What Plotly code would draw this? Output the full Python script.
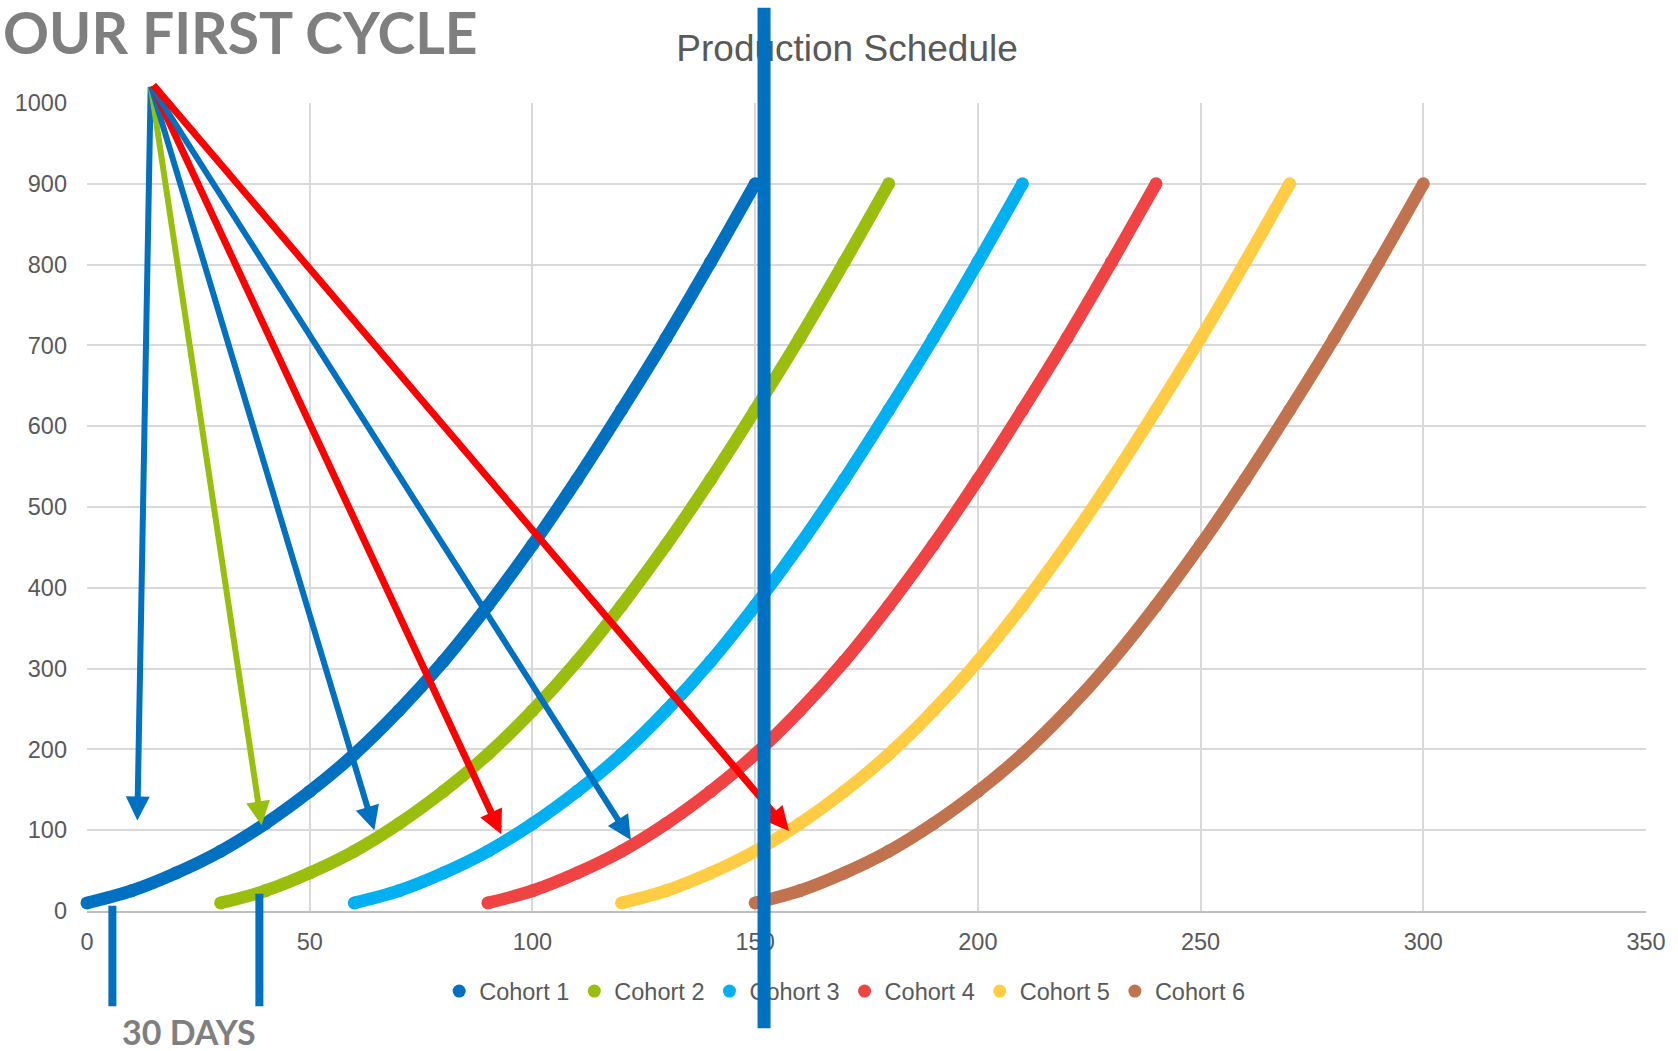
import plotly.graph_objects as go

# ---------------- data ----------------
cohorts = ["Cohort 1", "Cohort 2", "Cohort 3", "Cohort 4", "Cohort 5", "Cohort 6"]
start_days = [0, 30, 60, 90, 120, 150]
day_offsets = [0, 10, 20, 30, 40, 50, 60, 70, 80, 90, 100, 110, 120, 130, 140, 150]
growth = [10, 25, 47, 74, 108, 148, 194, 248, 309, 378, 453, 534, 620, 709, 803, 900]
colors = ["#0070C0", "#9BBD0E", "#00B0F0", "#F04343", "#FFCC44", "#C0734E"]

# arrows: tail (x, y) -> tip (x, y), colour, width
arrow_tail_x = [14.3, 14.3, 14.3, 14.5, 14.3, 14.6]
arrow_tail_y = [1022, 1022, 1022, 1023, 1022, 1024]
arrow_tip_x = [11.3, 39.2, 64.5, 93.0, 122.1, 157.6]
arrow_tip_y = [112, 106, 100, 95, 88, 99]
arrow_colors = ["#0070C0", "#98BE0E", "#0070C0", "#FF0000", "#0070C0", "#FF0000"]
arrow_widths = [6, 6, 6, 7, 6, 7]

X_MAX, Y_MAX = 350, 1000
GRAY = "#595959"

fig = go.Figure()

for name, s, c in zip(cohorts, start_days, colors):
    xs = [s + d for d in day_offsets]
    fig.add_trace(go.Scatter(
        x=xs, y=growth, mode="lines+markers", name=name,
        line=dict(color=c, width=12.5, shape="spline", smoothing=1.0),
        marker=dict(color=c, size=13),
        showlegend=False, cliponaxis=False, hoverinfo="x+y+name",
    ))
for name, c in zip(cohorts, colors):
    fig.add_trace(go.Scatter(
        x=[None], y=[None], mode="markers", name=name,
        marker=dict(color=c, size=13), showlegend=True,
    ))

annotations = []
for tx, ty, hx, hy, c, w in zip(arrow_tail_x, arrow_tail_y, arrow_tip_x, arrow_tip_y,
                                arrow_colors, arrow_widths):
    annotations.append(dict(
        x=hx, y=hy, xref="x", yref="y", ax=tx, ay=ty, axref="x", ayref="y",
        text="", showarrow=True, arrowhead=2, arrowsize=24 / (5 * w),
        arrowwidth=w, arrowcolor=c, standoff=0, startstandoff=0,
    ))

# blue marker lines (decorations)
def vline(xdata, y_bottom_paper, length_px, width):
    return dict(x=xdata, y=y_bottom_paper, xref="x", yref="paper",
                ax=0, ay=-length_px, axref="pixel", ayref="pixel",
                text="", showarrow=True, arrowhead=0, arrowwidth=width,
                arrowcolor="#0070C0", standoff=0, startstandoff=0)

annotations.append(vline(5.7, -0.118, 102, 8))
annotations.append(vline(38.7, -0.118, 114, 8))
annotations.append(vline(152, -0.145, 1022, 13))

annotations.append(dict(
    x=-0.0552, y=1.088, xref="paper", yref="paper", xanchor="left", yanchor="middle",
    text="OUR FIRST CYCLE", showarrow=False,
    font=dict(family="Lato", size=57, color="#7F7F7F", weight=700),
))
annotations.append(dict(
    x=0.0656, y=-0.1765, xref="paper", yref="paper", xanchor="center", yanchor="bottom",
    text="30 DAYS", showarrow=False,
    font=dict(family="Lato", size=34, color="#7F7F7F", weight=700),
))

fig.update_layout(
    width=1678, height=1051,
    margin=dict(l=87, r=29, t=103, b=140),
    paper_bgcolor="white", plot_bgcolor="white",
    title=dict(text="Production Schedule", x=0.5048, y=0.954, xref="container",
               yref="container", xanchor="center", yanchor="middle",
               font=dict(family="Liberation Sans, Arial", size=37, color=GRAY)),
    font=dict(family="Liberation Sans, Arial", color=GRAY),
    legend=dict(orientation="h", x=0.486, y=-0.0994, xanchor="center", yanchor="middle",
                font=dict(size=23.5, color=GRAY), itemwidth=30,
                bgcolor="rgba(0,0,0,0)"),
    annotations=annotations,
    showlegend=True,
)
fig.update_xaxes(range=[0, X_MAX], dtick=50, tick0=0, showgrid=True, gridcolor="#D9D9D9",
                 gridwidth=1.5, zeroline=False, showline=True, linecolor="#BFBFBF",
                 linewidth=2, ticks="", tickfont=dict(size=23.5, color=GRAY),
                 ticklabelstandoff=9)
fig.update_yaxes(range=[0, Y_MAX], dtick=100, tick0=0, showgrid=True, gridcolor="#D9D9D9",
                 gridwidth=1.5, zeroline=False, showline=False, ticks="",
                 tickfont=dict(size=23.5, color=GRAY), ticklabelstandoff=19)

fig.write_html("out.html")
